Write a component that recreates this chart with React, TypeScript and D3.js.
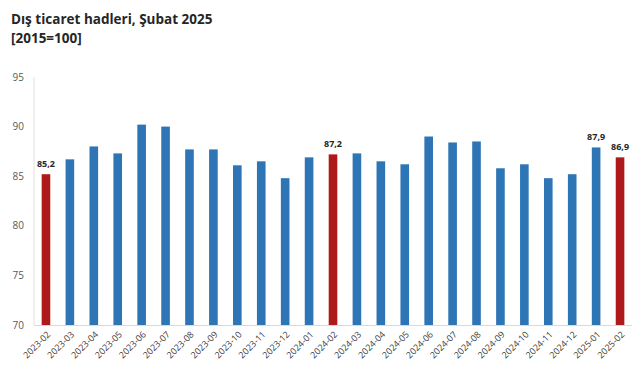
import React from "react";
import * as d3 from "d3";

const categories = ["2023-02","2023-03","2023-04","2023-05","2023-06","2023-07","2023-08","2023-09","2023-10","2023-11","2023-12","2024-01","2024-02","2024-03","2024-04","2024-05","2024-06","2024-07","2024-08","2024-09","2024-10","2024-11","2024-12","2025-01","2025-02"];
const values = [85.2,86.7,88.0,87.3,90.2,90.0,87.7,87.7,86.1,86.5,84.8,86.9,87.2,87.3,86.5,86.2,89.0,88.4,88.5,85.8,86.2,84.8,85.2,87.9,86.9];
const highlighted = ["2023-02","2024-02","2025-02"];
const labelled = ["2023-02","2024-02","2025-01","2025-02"];
const yTicks = [70,75,80,85,90,95];
const titleLines = ["Dış ticaret hadleri, Şubat 2025","[2015=100]"];

export default function App() {
  const W = 641, H = 380;
  const left = 34, right = 632, top = 77, bottom = 325;
  const x = d3.scaleBand<string>().domain(categories).range([left, right]).paddingInner(0.64).paddingOuter(0.32);
  const y = d3.scaleLinear().domain([70, 95]).range([bottom, top]);
  const font = "'Open Sans', 'Noto Sans', sans-serif";
  return (
    <svg width={W} height={H} style={{ position: "absolute", left: 0, top: 0, background: "#fff" }} fontFamily={font}>
      <text x={11} y={24} fontSize={13.5} fontWeight="bold" fill="#262626">{titleLines[0]}</text>
      <text x={11} y={43} fontSize={13.5} fontWeight="bold" fill="#262626">{titleLines[1]}</text>
      <line x1={left} x2={left} y1={top} y2={bottom} stroke="#e6dede" strokeWidth={1} />
      <line x1={left} x2={right} y1={bottom + 0.5} y2={bottom + 0.5} stroke="#d9d9d9" strokeWidth={1} />
      {yTicks.map(t => (
        <text key={t} x={24} y={y(t)} dy="0.35em" fontSize={10} textAnchor="end" fill="#595959">{t}</text>
      ))}
      {categories.map((c, i) => {
        const v = values[i];
        const bx = x(c)!;
        const hl = highlighted.includes(c);
        return (
          <g key={c}>
            <rect x={bx} y={y(v)} width={x.bandwidth()} height={bottom - y(v)} fill={hl ? "#ae1a1a" : "#2e75b6"} />
            {labelled.includes(c) && (
              <text x={bx + x.bandwidth() / 2} y={y(v) - 7} fontSize={9} fontWeight="bold" textAnchor="middle" fill="#262626">
                {v.toFixed(1).replace(".", ",")}
              </text>
            )}
            <text transform={`translate(${bx + x.bandwidth() / 2 + 5},${bottom + 10}) rotate(-45)`} fontSize={9} textAnchor="end" fill="#404040">{c}</text>
          </g>
        );
      })}
    </svg>
  );
}
